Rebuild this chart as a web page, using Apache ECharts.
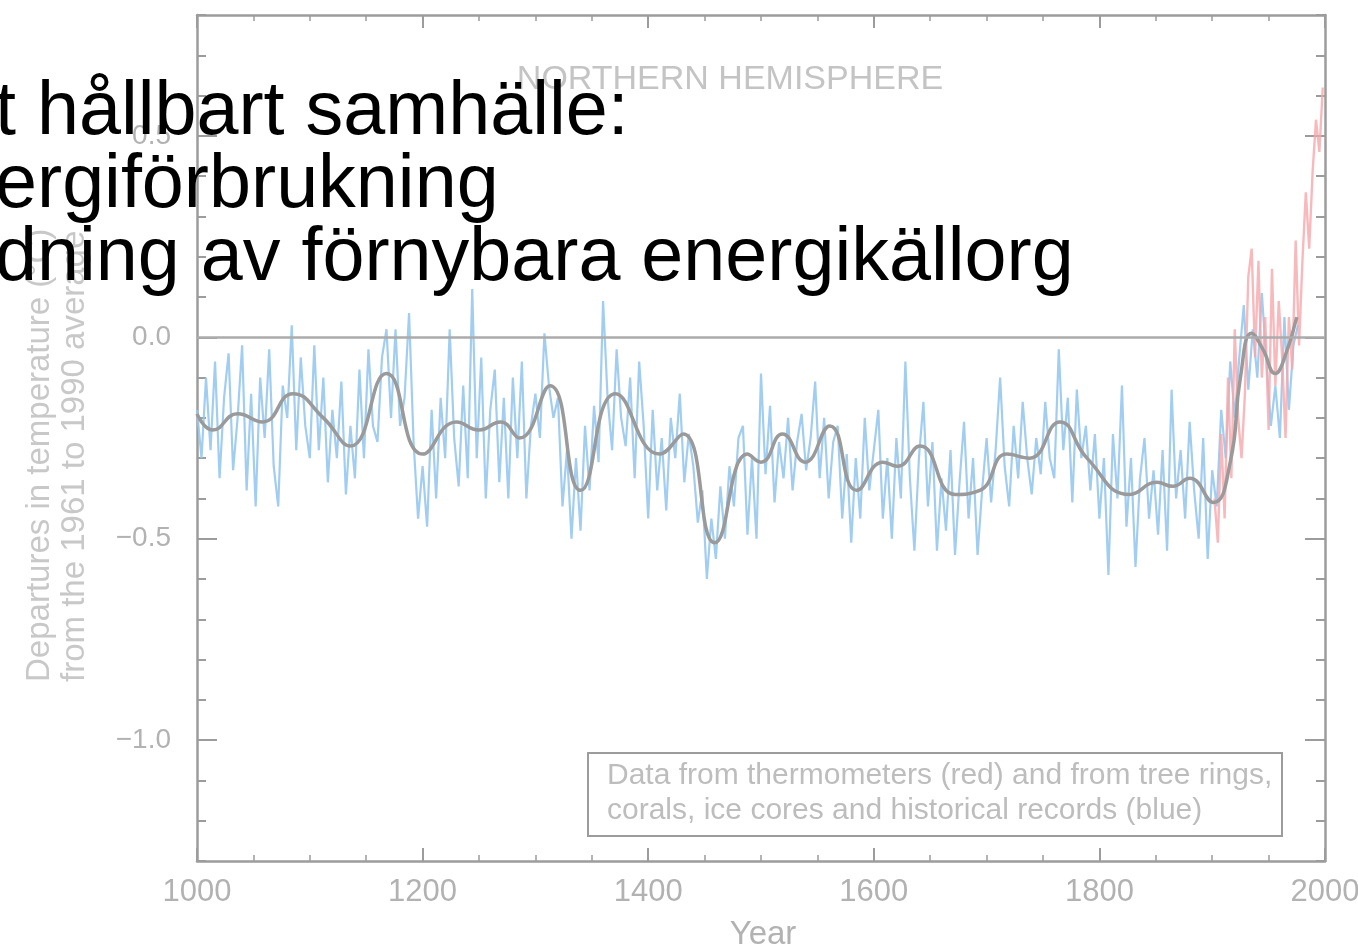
<!DOCTYPE html>
<html><head><meta charset="utf-8">
<script src="https://cdn.jsdelivr.net/npm/echarts@6/dist/echarts.min.js"></script>
<style>html,body{margin:0;padding:0;background:#fff;overflow:hidden}#c{width:1358px;height:950px}</style>
</head><body><div id="c"></div>
<script>
// ---- data ----
const overlayLines = ['t hållbart samhälle:', 'ergiförbrukning', 'dning av förnybara energikällorg'];
const chartTitle = 'NORTHERN HEMISPHERE';
const legendLines = ['Data from thermometers (red) and from tree rings,', 'corals, ice cores and historical records (blue)'];
const yNameLines = ['Departures in temperature (°C)', 'from the 1961 to 1990 average'];
const xName = 'Year';
const xTickLabels = [1000, 1200, 1400, 1600, 1800, 2000];
const yTickLabels = [-1.0, -0.5, 0.0, 0.5];

// proxy reconstruction (blue), every 4 years from 1000
const proxyStart = 1000, proxyStep = 4;
const proxyValues = [
 -0.18,-0.30,-0.10,-0.28,-0.06,-0.35,-0.15,-0.04,-0.33,-0.20,
 -0.02,-0.38,-0.14,-0.42,-0.10,-0.25,-0.03,-0.32,-0.42,-0.12,
 -0.20, 0.03,-0.28,-0.05,-0.22,-0.30,-0.02,-0.28,-0.10,-0.36,
 -0.18,-0.30,-0.11,-0.39,-0.22,-0.35,-0.08,-0.30,-0.03,-0.22,
 -0.26,-0.05, 0.02,-0.20, 0.02,-0.22,-0.15, 0.06,-0.26,-0.45,
 -0.32,-0.47,-0.18,-0.40,-0.15,-0.30, 0.02,-0.25,-0.37,-0.12,
 -0.35, 0.12,-0.30,-0.05,-0.40,-0.18,-0.08,-0.36,-0.15,-0.40,
 -0.10,-0.30,-0.06,-0.40,-0.22,-0.14,-0.25, 0.01,-0.12,-0.20,
 -0.15,-0.42,-0.28,-0.50,-0.30,-0.48,-0.22,-0.38,-0.17,-0.31,
  0.09,-0.15,-0.28,-0.03,-0.20,-0.27,-0.10,-0.35,-0.06,-0.22,
 -0.45,-0.18,-0.38,-0.25,-0.43,-0.20,-0.30,-0.14,-0.36,-0.24,
 -0.32,-0.46,-0.38,-0.60,-0.45,-0.55,-0.37,-0.50,-0.32,-0.42,
 -0.25,-0.22,-0.49,-0.30,-0.50,-0.09,-0.34,-0.17,-0.41,-0.26,
 -0.35,-0.20,-0.38,-0.26,-0.19,-0.33,-0.25,-0.11,-0.35,-0.20,
 -0.40,-0.26,-0.22,-0.45,-0.29,-0.51,-0.30,-0.45,-0.20,-0.38,
 -0.28,-0.18,-0.45,-0.30,-0.50,-0.25,-0.40,-0.06,-0.35,-0.53,
 -0.30,-0.16,-0.42,-0.26,-0.53,-0.35,-0.48,-0.28,-0.54,-0.36,
 -0.21,-0.45,-0.30,-0.54,-0.38,-0.25,-0.41,-0.28,-0.10,-0.32,
 -0.42,-0.22,-0.35,-0.16,-0.30,-0.39,-0.25,-0.34,-0.16,-0.30,
 -0.35,-0.03,-0.28,-0.15,-0.41,-0.13,-0.30,-0.22,-0.38,-0.24,
 -0.45,-0.30,-0.59,-0.24,-0.40,-0.12,-0.47,-0.30,-0.57,-0.35,
 -0.25,-0.45,-0.33,-0.49,-0.28,-0.53,-0.13,-0.40,-0.28,-0.45,
 -0.21,-0.38,-0.50,-0.25,-0.55,-0.33,-0.42,-0.18,-0.30,-0.06,
 -0.20,-0.05, 0.08,-0.13, 0.02,-0.10, 0.11,-0.06,-0.22,-0.12,
 -0.25, 0.05,-0.18,-0.02, 0.03
];

// thermometer record (red), every 3 years from 1902
const instrStart = 1902, instrStep = 3;
const instrValues = [
 -0.40,-0.51,-0.24,-0.45,-0.10,-0.35, 0.02,-0.20,-0.30,-0.14,
  0.15, 0.22,-0.05, 0.19,-0.10, 0.05,-0.23, 0.17,-0.12, 0.09,
 -0.05,-0.25, 0.05,-0.08, 0.24,-0.02, 0.19, 0.36, 0.22, 0.41,
  0.54, 0.46, 0.62
];

// smoothed curve (grey)
const smoothYears  = [1000,1014,1036,1058,1085,1112,1136,1168,1200,1230,1250,1269,1286,1313,1340,1371,1410,1431,1459,1488,1500,1519,1539,1561,1585,1608,1621,1641,1672,1694,1718,1738,1765,1789,1827,1851,1865,1880,1901,1916,1925,1935,1945,1956,1963,1975];
const smoothValues = [-0.19,-0.23,-0.19,-0.21,-0.14,-0.20,-0.27,-0.09,-0.29,-0.21,-0.23,-0.21,-0.25,-0.12,-0.38,-0.14,-0.29,-0.24,-0.51,-0.29,-0.31,-0.24,-0.31,-0.22,-0.38,-0.31,-0.32,-0.27,-0.39,-0.38,-0.29,-0.30,-0.21,-0.30,-0.39,-0.36,-0.37,-0.35,-0.41,-0.31,-0.10,0.01,-0.03,-0.09,-0.06,0.05];

// ---- build ----
const proxyData = proxyValues.map((v, i) => [proxyStart + i * proxyStep, v]);
const instrData = instrValues.map((v, i) => [instrStart + i * instrStep, v]);
const smoothData = smoothYears.map((y, i) => [y, smoothValues[i]]);

const AX = '#9c9c9c', LBL = '#b2b2b2', FONT = '"Liberation Sans", Arial, sans-serif';
const isLabelY = v => yTickLabels.some(t => Math.abs(t - v) < 1e-6);
const fmtY = v => isLabelY(v) ? (v < -1e-9 ? '\u2212' + Math.abs(v).toFixed(1) : Math.abs(v).toFixed(1)) : '';

const baseX = {
  type: 'value', min: xTickLabels[0], max: xTickLabels[xTickLabels.length - 1],
  interval: xTickLabels[1] - xTickLabels[0],
  axisLine: { show: true, onZero: false, lineStyle: { color: AX, width: 2.5 } },
  axisTick: { show: true, inside: true, length: 13, lineStyle: { color: AX, width: 2 } },
  minorTick: { show: true, splitNumber: 4, length: 6, lineStyle: { color: AX, width: 1.5 } },
  splitLine: { show: false }
};
const yMin = -1.3, yMax = 0.8;
const minorY = pos => ({
  type: 'value', position: pos, min: yMin, max: yMax, interval: 0.1,
  axisLine: { show: true, onZero: false, lineStyle: { color: AX, width: 2.5 } },
  axisTick: { show: true, inside: true, length: 9, lineStyle: { color: AX, width: 2 } },
  splitLine: { show: false },
  axisLabel: pos === 'left'
    ? { show: true, formatter: fmtY, color: LBL, fontSize: 28, fontFamily: FONT, margin: 26 }
    : { show: false }
});
const majorY = pos => ({
  type: 'value', position: pos, min: yMin, max: yMax,
  axisLine: { show: false },
  axisTick: { show: true, inside: true, length: 20, customValues: yTickLabels, lineStyle: { color: AX, width: 2 } },
  axisLabel: { show: false },
  splitLine: { show: false }
});

const chart = echarts.init(document.getElementById('c'), null, { renderer: 'canvas' });
chart.setOption({
  animation: false,
  backgroundColor: '#fff',
  grid: { left: 197, right: 33, top: 15, bottom: 89, containLabel: false, outerBoundsMode: 'none' },
  xAxis: [
    Object.assign({}, baseX, { position: 'bottom',
      axisLabel: { show: true, formatter: v => String(v), color: LBL, fontSize: 31, fontFamily: FONT, margin: 16 } }),
    Object.assign({}, baseX, { position: 'top', axisLabel: { show: false } })
  ],
  yAxis: [minorY('left'), majorY('left'), minorY('right'), majorY('right')],
  series: [
    { type: 'line', name: 'proxy', data: proxyData, xAxisIndex: 0, yAxisIndex: 0,
      symbol: 'none', z: 2, lineStyle: { color: '#97c8f0', width: 2.2, opacity: 0.9 } },
    { type: 'line', name: 'instrumental', data: instrData, xAxisIndex: 0, yAxisIndex: 0,
      symbol: 'none', z: 3, lineStyle: { color: '#f6a7ad', width: 2.4, opacity: 0.8 } },
    { type: 'line', name: 'smooth', data: smoothData, xAxisIndex: 0, yAxisIndex: 0,
      symbol: 'none', smooth: 0.5, z: 4, lineStyle: { color: '#9a9a9a', width: 3.5 },
      markLine: { silent: true, symbol: ['none', 'none'], label: { show: false },
        lineStyle: { color: '#ababab', width: 2.5, type: 'solid' }, data: [{ yAxis: 0 }] } }
  ],
  graphic: [
    { type: 'text', x: 730, y: 80, z: 5, style: { text: chartTitle, font: '34px ' + FONT, fill: '#c4c4c4', align: 'center', verticalAlign: 'middle' } },
    { type: 'rect', z: 5, shape: { x: 588, y: 753, width: 694, height: 83 }, style: { fill: '#fff', stroke: '#9c9c9c', lineWidth: 2 } },
    { type: 'text', x: 607, y: 776, z: 6, style: { text: legendLines[0], font: '30px ' + FONT, fill: '#bdbdbd', align: 'left', verticalAlign: 'middle' } },
    { type: 'text', x: 607, y: 811, z: 6, style: { text: legendLines[1], font: '30px ' + FONT, fill: '#bdbdbd', align: 'left', verticalAlign: 'middle' } },
    { type: 'text', x: 763, y: 935, z: 5, style: { text: xName, font: '33px ' + FONT, fill: LBL, align: 'center', verticalAlign: 'middle' } },
    { type: 'text', x: 40, y: 682, rotation: Math.PI / 2, z: 5, style: { text: yNameLines[0], font: '33px ' + FONT, fill: '#c8c8c8', align: 'left', verticalAlign: 'middle' } },
    { type: 'text', x: 75, y: 682, rotation: Math.PI / 2, z: 5, style: { text: yNameLines[1], font: '33px ' + FONT, fill: '#c8c8c8', align: 'left', verticalAlign: 'middle' } },
    { type: 'text', x: -5, y: 113, z: 20, style: { text: overlayLines[0], font: '75.5px ' + FONT, fill: '#000', align: 'left', verticalAlign: 'middle' } },
    { type: 'text', x: -5, y: 186, z: 20, style: { text: overlayLines[1], font: '75.5px ' + FONT, fill: '#000', align: 'left', verticalAlign: 'middle' } },
    { type: 'text', x: -5, y: 259, z: 20, style: { text: overlayLines[2], font: '75.5px ' + FONT, fill: '#000', align: 'left', verticalAlign: 'middle' } }
  ]
});
</script>
</body></html>
